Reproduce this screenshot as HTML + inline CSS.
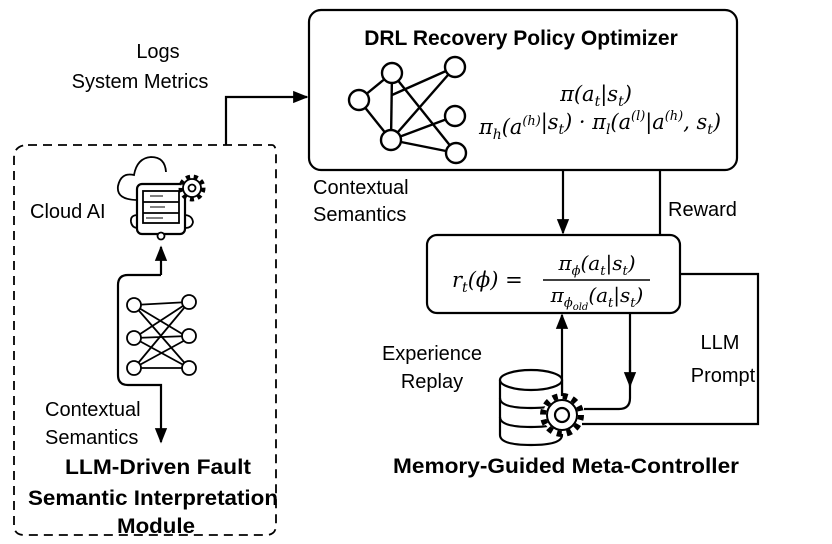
<!DOCTYPE html>
<html><head><meta charset="utf-8"><style>
html,body{margin:0;padding:0;background:#fff;}
svg{display:block;}
text{font-family:"Liberation Sans",Arial,sans-serif;fill:#000;}
.m{font-family:"DejaVu Serif","Liberation Serif",serif;font-style:italic;}
</style></head><body>
<svg width="832" height="544" viewBox="0 0 832 544" xmlns="http://www.w3.org/2000/svg">
<defs>
<marker id="ah" viewBox="0 0 10 10" refX="9" refY="5" markerWidth="7" markerHeight="7" orient="auto-start-reverse"><path d="M0,1 L10,5 L0,9 z" fill="#000"/></marker>
</defs>
<g fill="none" stroke="#000" stroke-width="2.2">
<path d="M28,145 H272 Q276,145 276,155 V525 Q276,535 266,535 H24 Q14,535 14,525 V158 Q14,145 28,145 Z" stroke-dasharray="9,6" stroke-width="1.8"/>
<rect x="309" y="10" width="428" height="160" rx="12"/>
<rect x="427" y="235" width="253" height="78" rx="10"/>
<path d="M226,145 V97 H307" marker-end="url(#ah)"/>
<path d="M563,170 V233" marker-end="url(#ah)"/>
<path d="M660,170 V235"/>
<path d="M562,395 V315" marker-end="url(#ah)"/>
<path d="M630,313 V398 Q630,409 619,409 H584" />
<path d="M630,360 V386" marker-end="url(#ah)"/>
<path d="M680,274 H758 V424 H582"/>
<path d="M161,275 V247" marker-end="url(#ah)"/>
<path d="M161,275 H128 Q118,275 118,285 V375 Q118,385 128,385 H161 V442" marker-end="url(#ah)"/>
<g stroke-width="2.4">
<line x1="359" y1="100" x2="392" y2="73"/><line x1="359" y1="100" x2="391" y2="140"/>
<line x1="392" y1="73" x2="391" y2="140"/><line x1="392" y1="73" x2="456" y2="153"/>
<line x1="392" y1="95" x2="455" y2="67"/><line x1="455" y1="67" x2="391" y2="140"/>
<line x1="391" y1="140" x2="455" y2="116"/><line x1="391" y1="140" x2="456" y2="153"/>
</g>
<g fill="#fff" stroke-width="2.4">
<circle cx="359" cy="100" r="10"/><circle cx="392" cy="73" r="10"/><circle cx="455" cy="67" r="10"/>
<circle cx="455" cy="116" r="10"/><circle cx="391" cy="140" r="10"/><circle cx="456" cy="153" r="10"/>
</g>
<g stroke-width="1.8">
<line x1="134" y1="305" x2="189" y2="302"/><line x1="134" y1="305" x2="189" y2="338"/><line x1="134" y1="305" x2="189" y2="368"/>
<line x1="134" y1="338" x2="189" y2="302"/><line x1="134" y1="338" x2="189" y2="336"/><line x1="134" y1="338" x2="189" y2="368"/>
<line x1="134" y1="368" x2="189" y2="302"/><line x1="134" y1="368" x2="189" y2="338"/><line x1="134" y1="368" x2="189" y2="368"/>
</g>
<g fill="#fff" stroke-width="1.8">
<circle cx="134" cy="305" r="7"/><circle cx="134" cy="338" r="7"/><circle cx="134" cy="368" r="7"/>
<circle cx="189" cy="302" r="7"/><circle cx="189" cy="336" r="7"/><circle cx="189" cy="368" r="7"/>
</g>
<g stroke-width="1.8">
<path d="M138,200 Q116,200 118,186 Q121,172 134,175 Q137,158 151,157 Q165,157 166,172"/>
<path d="M138,215 Q130,215 131,222 Q132,228 138,228"/>
<path d="M184,215 Q192,215 193,222 Q192,228 185,228"/>
<rect x="137" y="184" width="48" height="50" rx="5" fill="#fff" stroke-width="2.2"/>
<rect x="143" y="191" width="36" height="32"/>
<line x1="143" y1="202" x2="179" y2="202"/><line x1="143" y1="213" x2="179" y2="213"/>
<line x1="150" y1="196" x2="163" y2="196" stroke-width="1"/><line x1="150" y1="207" x2="165" y2="207" stroke-width="1"/><line x1="146" y1="218" x2="163" y2="218" stroke-width="1"/>
<circle cx="161" cy="236" r="3.5" fill="#fff"/>
<circle cx="192" cy="188" r="11" fill="#fff" stroke-width="5" stroke-dasharray="4,3.6"/>
<circle cx="192" cy="188" r="9" fill="#fff" stroke-width="1.8"/>
<circle cx="192" cy="188" r="3.5"/>
</g>
<g stroke-width="2.2" fill="#fff">
<path d="M500,380 V435 Q500,445 531,445 Q562,445 562,435 V380"/>
<ellipse cx="531" cy="380" rx="31" ry="10"/>
<path d="M500,398 Q500,408 531,408 Q562,408 562,398" fill="none"/>
<path d="M500,417 Q500,427 531,427 Q562,427 562,417" fill="none"/>
</g>
<circle cx="562" cy="415" r="19" fill="#fff" stroke-width="6" stroke-dasharray="5,5"/>
<circle cx="562" cy="415" r="15" fill="#fff" stroke-width="2"/>
<circle cx="562" cy="415" r="7" fill="#fff" stroke-width="2.2"/>
</g>
<text x="158" y="58" font-size="20" text-anchor="middle">Logs</text>
<text x="140" y="88" font-size="20" text-anchor="middle">System Metrics</text>
<text x="521" y="45" font-size="21" font-weight="bold" text-anchor="middle">DRL Recovery Policy Optimizer</text>
<text x="596" y="101" font-size="21" class="m" text-anchor="middle">π(a<tspan font-size="14" dy="5">t</tspan><tspan dy="-5">|s</tspan><tspan font-size="14" dy="5">t</tspan><tspan dy="-5">)</tspan></text>
<text x="600" y="134" font-size="21" class="m" text-anchor="middle" textLength="242" lengthAdjust="spacingAndGlyphs">π<tspan font-size="14" dy="5">h</tspan><tspan dy="-5">(a</tspan><tspan font-size="13" dy="-9">(h)</tspan><tspan dy="4">|s</tspan><tspan font-size="14" dy="5">t</tspan><tspan dy="-5">) · π</tspan><tspan font-size="14" dy="5">l</tspan><tspan dy="-5">(a</tspan><tspan font-size="13" dy="-9">(l)</tspan><tspan dy="9">|a</tspan><tspan font-size="13" dy="-9">(h)</tspan><tspan dy="9">, s</tspan><tspan font-size="14" dy="5">t</tspan><tspan dy="-5">)</tspan></text>
<text x="313" y="194" font-size="20">Contextual</text>
<text x="313" y="221" font-size="20">Semantics</text>
<text x="668" y="216" font-size="20">Reward</text>
<text x="452" y="287" font-size="21" class="m">r<tspan font-size="14" dy="5">t</tspan><tspan dy="-5">(ϕ) =</tspan></text>
<line x1="543" y1="280" x2="650" y2="280" stroke="#000" stroke-width="1.5"/>
<text x="597" y="270" font-size="20" class="m" text-anchor="middle">π<tspan font-size="13" dy="5">ϕ</tspan><tspan dy="-5">(a</tspan><tspan font-size="13" dy="5">t</tspan><tspan dy="-5">|s</tspan><tspan font-size="13" dy="5">t</tspan><tspan dy="-5">)</tspan></text>
<text x="597" y="302" font-size="20" class="m" text-anchor="middle">π<tspan font-size="13" dy="5">ϕ</tspan><tspan font-size="10" dy="3">old</tspan><tspan dy="-8">(a</tspan><tspan font-size="13" dy="5">t</tspan><tspan dy="-5">|s</tspan><tspan font-size="13" dy="5">t</tspan><tspan dy="-5">)</tspan></text>
<text x="432" y="360" font-size="20" text-anchor="middle">Experience</text>
<text x="432" y="388" font-size="20" text-anchor="middle">Replay</text>
<text x="720" y="349" font-size="20" text-anchor="middle">LLM</text>
<text x="723" y="382" font-size="20" text-anchor="middle">Prompt</text>
<text x="30" y="218" font-size="20">Cloud AI</text>
<text x="45" y="416" font-size="20">Contextual</text>
<text x="45" y="444" font-size="20">Semantics</text>
<text x="158" y="474" font-size="21" font-weight="bold" text-anchor="middle" textLength="186" lengthAdjust="spacingAndGlyphs">LLM-Driven Fault</text>
<text x="153" y="505" font-size="21" font-weight="bold" text-anchor="middle" textLength="250" lengthAdjust="spacingAndGlyphs">Semantic Interpretation</text>
<text x="156" y="533" font-size="21" font-weight="bold" text-anchor="middle" textLength="78" lengthAdjust="spacingAndGlyphs">Module</text>
<text x="566" y="473" font-size="21" font-weight="bold" text-anchor="middle" textLength="346" lengthAdjust="spacingAndGlyphs">Memory-Guided Meta-Controller</text>
</svg>
</body></html>
